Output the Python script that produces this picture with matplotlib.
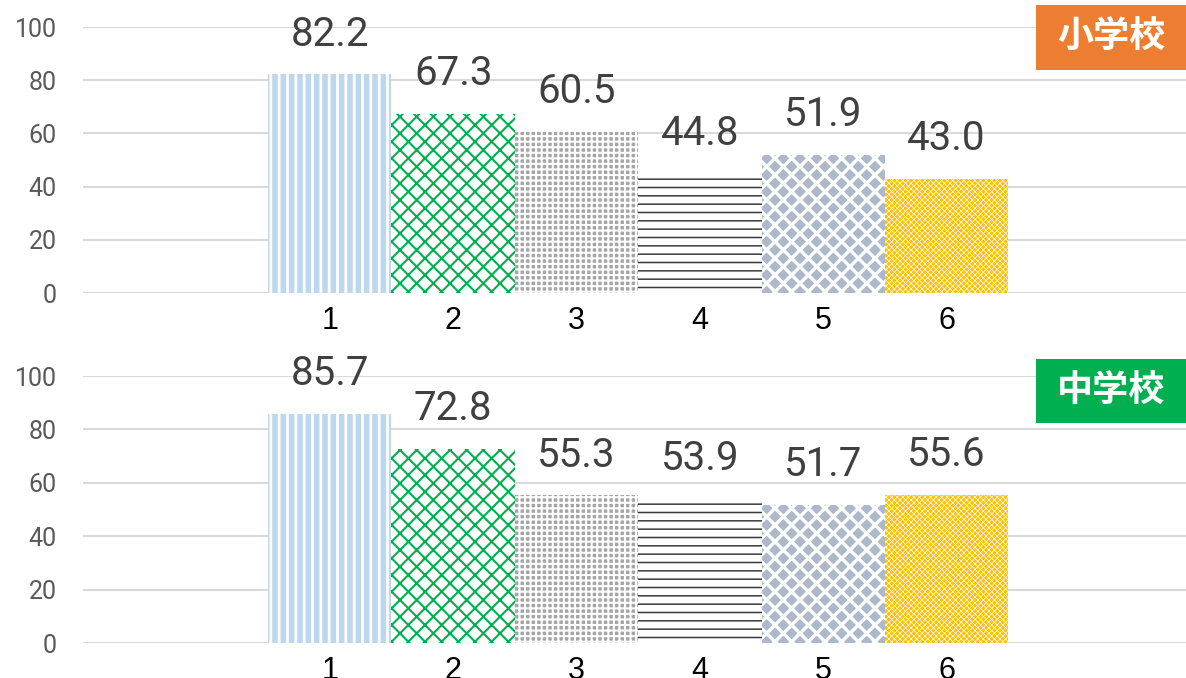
import matplotlib
matplotlib.use("Agg")
import matplotlib.pyplot as plt
from matplotlib.patches import Rectangle

categories = ["1", "2", "3", "4", "5", "6"]
elementary = [82.2, 67.3, 60.5, 44.8, 51.9, 43.0]
junior_high = [85.7, 72.8, 55.3, 53.9, 51.7, 55.6]
panel_titles = ["小学校", "中学校"]
badge_colors = ["#ED7D31", "#00B050"]
y_ticks = [0, 20, 40, 60, 80, 100]

# face colour, hatch colour, hatch pattern, hatch line width (pt)
bar_styles = [
    ("#BDD7EE", "white", "||", 2.0),
    ("white", "#00B050", "xx", 1.5),
    ("#A5A5A5", "white", "+++", 1.5),
    ("white", "#3A3A3A", "--", 1.1),
    ("#ADB9CA", "white", "xx", 2.4),
    ("#FFC000", "white", "xxxxxx", 0.5),
]

plt.rcParams["font.family"] = ["Roboto", "Noto Sans CJK JP", "DejaVu Sans"]

fig = plt.figure(figsize=(11.86, 6.78), dpi=100)


def draw_panel(ax, values):
    xs = list(range(1, len(values) + 1))
    for x, v, (face, hcol, hatch, hlw) in zip(xs, values, bar_styles):
        with plt.rc_context({"hatch.linewidth": hlw}):
            bars = ax.bar(x, v, width=1.0, color=face, edgecolor=hcol,
                          hatch=hatch, linewidth=0, zorder=2)
        for b in bars:
            if hasattr(b, "set_hatch_linewidth"):
                b.set_hatch_linewidth(hlw)
        ax.annotate(f"{v:.1f}", (x, v), xytext=(0, 15), textcoords="offset points",
                    ha="center", va="bottom", fontsize=29, color="#404040")
    ax.set_xlim(-1.0, 7.94)
    ax.set_ylim(0, 100)
    ax.set_yticks(y_ticks)
    ax.set_xticks(xs)
    ax.set_xticklabels(categories, fontsize=22, family=["Liberation Sans"], color="black")
    ax.tick_params(axis="y", length=0, pad=19, labelsize=18, labelcolor="#595959")
    ax.tick_params(axis="x", length=0, pad=9)
    ax.grid(axis="y", color="#D9D9D9", linewidth=1.5, zorder=0)
    for s in ax.spines.values():
        s.set_visible(False)


ax_top = fig.add_axes([0.07, 0.5678, 0.93, 0.3923])
ax_bot = fig.add_axes([0.07, 0.0516, 0.93, 0.3938])
draw_panel(ax_top, elementary)
draw_panel(ax_bot, junior_high)

# badges in the top-right corner of each panel
badge_boxes = [(1036 / 1186, 1 - 70 / 678, 150 / 1186, 65 / 678),
               (1036 / 1186, 1 - 423 / 678, 150 / 1186, 64 / 678)]
for (x0, y0, w, h), title, col in zip(badge_boxes, panel_titles, badge_colors):
    fig.patches.append(Rectangle((x0, y0), w, h, transform=fig.transFigure,
                                 facecolor=col, edgecolor="none", zorder=5))
    fig.text(x0 + w / 2, y0 + h / 2, title, ha="center", va="center",
             fontsize=26, fontweight="bold", color="white",
             family=["Noto Sans CJK JP"], zorder=6)

fig.savefig("out.png", dpi=100)
